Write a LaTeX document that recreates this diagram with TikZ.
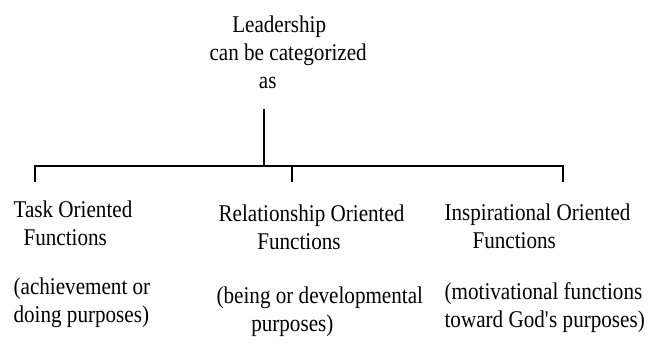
\documentclass[tikz,border=0pt]{standalone}
\usepackage{fontspec}
\setmainfont{Liberation Serif}[FakeStretch=0.88]

\begin{document}
\begin{tikzpicture}[x=0.75pt, y=-0.75pt, line width=0.9pt,
    every node/.style={inner sep=0pt, align=left, anchor=base west,
      font=\fontsize{18}{21}\selectfont}]
  \useasboundingbox (0,0) rectangle (649,343);

  % heading (base = last line)
  \node (lead) at (209,88) {\hspace*{17pt}Leadership\\can be categorized\\\hspace*{37pt}as};

  % the three groups
  \node (task) at (13,245) {Task Oriented\\\hspace*{7.5pt}Functions};
  \node (rel)  at (218,249) {Relationship Oriented\\\hspace*{29pt}Functions};
  \node (insp) at (444,248) {Inspirational Oriented\\\hspace*{21pt}Functions};

  \node (taskNote) at (13,322) {(achievement or\\doing purposes)};
  \node (relNote)  at (216,331) {(being or developmental\\\hspace*{26pt}purposes)};
  \node (inspNote) at (444,327) {(motivational functions\\toward God\textquotesingle s purposes)};

  % tree lines
  \coordinate (stem) at (264,109);
  \coordinate (hub) at (264,166);
  \coordinate (taskTick) at (35,182);
  \coordinate (relTick) at (292,182);
  \coordinate (inspTick) at (563,182);
  \draw (stem) -- (hub);
  \draw (taskTick) |- (inspTick |- hub) -- (inspTick);
  \draw (relTick) -- (relTick |- hub);
\end{tikzpicture}
\end{document}
